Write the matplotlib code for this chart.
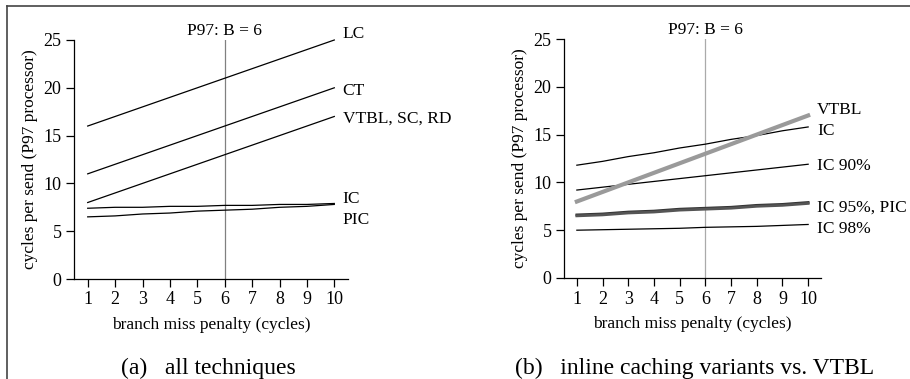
import matplotlib
matplotlib.use("Agg")
import matplotlib.pyplot as plt
from matplotlib.lines import Line2D

plt.rcParams['font.family'] = ['Liberation Serif', 'DejaVu Serif']

penalty = [1, 2, 3, 4, 5, 6, 7, 8, 9, 10]

# (a) all techniques
lc = [16, 17, 18, 19, 20, 21, 22, 23, 24, 25]
ct = [11, 12, 13, 14, 15, 16, 17, 18, 19, 20]
vtbl = [8, 9, 10, 11, 12, 13, 14, 15, 16, 17]
ic_a = [7.4, 7.5, 7.5, 7.6, 7.6, 7.7, 7.7, 7.8, 7.8, 7.9]
pic = [6.5, 6.6, 6.8, 6.9, 7.1, 7.2, 7.3, 7.5, 7.6, 7.8]

# (b) inline caching variants vs. VTBL
ic_b = [11.8, 12.2, 12.7, 13.1, 13.6, 14.0, 14.5, 14.9, 15.4, 15.8]
ic90 = [9.2, 9.5, 9.8, 10.1, 10.4, 10.7, 11.0, 11.3, 11.6, 11.9]
ic95 = [6.6, 6.7, 6.9, 7.0, 7.2, 7.3, 7.4, 7.6, 7.7, 7.9]
ic98 = [5.0, 5.05, 5.1, 5.15, 5.2, 5.3, 5.35, 5.4, 5.5, 5.6]

yticks = [0, 5, 10, 15, 20, 25]

fig = plt.figure(figsize=(9.1, 3.79), dpi=100)

# frame remnants (top and left border)
fig.add_artist(Line2D([7 / 910, 7 / 910], [0, 1 - 6 / 379], color='#444', lw=1.2, transform=fig.transFigure))
fig.add_artist(Line2D([7 / 910, 1], [1 - 6 / 379, 1 - 6 / 379], color='#444', lw=1.2, transform=fig.transFigure))

ax_a = fig.add_axes([74 / 910, 1 - 279 / 379, 274 / 910, 239 / 379])
ax_b = fig.add_axes([564 / 910, 1 - 278 / 379, 257 / 910, 239 / 379])


def style(ax, vcol):
    ax.set_xlim(0.5, 10.5)
    ax.set_ylim(0, 25)
    ax.spines['top'].set_visible(False)
    ax.spines['right'].set_visible(False)
    ax.spines['left'].set_linewidth(0.9)
    ax.spines['bottom'].set_linewidth(0.9)
    ax.set_xticks(penalty)
    ax.set_yticks(yticks)
    ax.tick_params(axis='both', direction='out', length=6, width=0.9, labelsize=13, pad=3)
    ax.set_xlabel('branch miss penalty (cycles)', fontsize=12.5, labelpad=6)
    ax.set_ylabel('cycles per send (P97 processor)', fontsize=12.5, labelpad=4)
    ax.axvline(6, color=vcol, lw=0.9, zorder=0)
    ax.text(6, 25.5, 'P97: B = 6', ha='center', va='baseline', fontsize=12.5)


style(ax_a, '#808080')
style(ax_b, '#aaaaaa')

for ys in [lc, ct, vtbl, ic_a, pic]:
    ax_a.plot(penalty, ys, color='black', lw=0.9, clip_on=False)

lx = 10.3
ax_a.text(lx, 25.6, 'LC', va='center', fontsize=12.5)
ax_a.text(lx, 19.7, 'CT', va='center', fontsize=12.5)
ax_a.text(lx, 16.8, 'VTBL, SC, RD', va='center', fontsize=12.5)
ax_a.text(lx, 8.4, 'IC', va='center', fontsize=12.5)
ax_a.text(lx, 6.2, 'PIC', va='center', fontsize=12.5)

ax_b.plot(penalty, ic_b, color='black', lw=0.9)
ax_b.plot(penalty, ic90, color='black', lw=0.9)
ax_b.plot(penalty, ic98, color='black', lw=0.9)
ax_b.plot(penalty, ic95, color='#333', lw=2.0)
ax_b.plot(penalty, pic, color='#555', lw=2.0)
ax_b.plot(penalty, vtbl, color='#9a9a9a', lw=3.0)

lx = 10.35
ax_b.text(lx, 17.6, 'VTBL', va='center', fontsize=12.5)
ax_b.text(lx, 15.4, 'IC', va='center', fontsize=12.5)
ax_b.text(lx, 11.7, 'IC 90%', va='center', fontsize=12.5)
ax_b.text(lx, 7.4, 'IC 95%, PIC', va='center', fontsize=12.5)
ax_b.text(lx, 5.1, 'IC 98%', va='center', fontsize=12.5)

fig.text(208 / 910, 1 - 374 / 379, '(a)   all techniques', ha='center', va='baseline', fontsize=17)
fig.text(695 / 910, 1 - 374 / 379, '(b)   inline caching variants vs. VTBL', ha='center', va='baseline', fontsize=17)

fig.savefig('out.png', dpi=100)
